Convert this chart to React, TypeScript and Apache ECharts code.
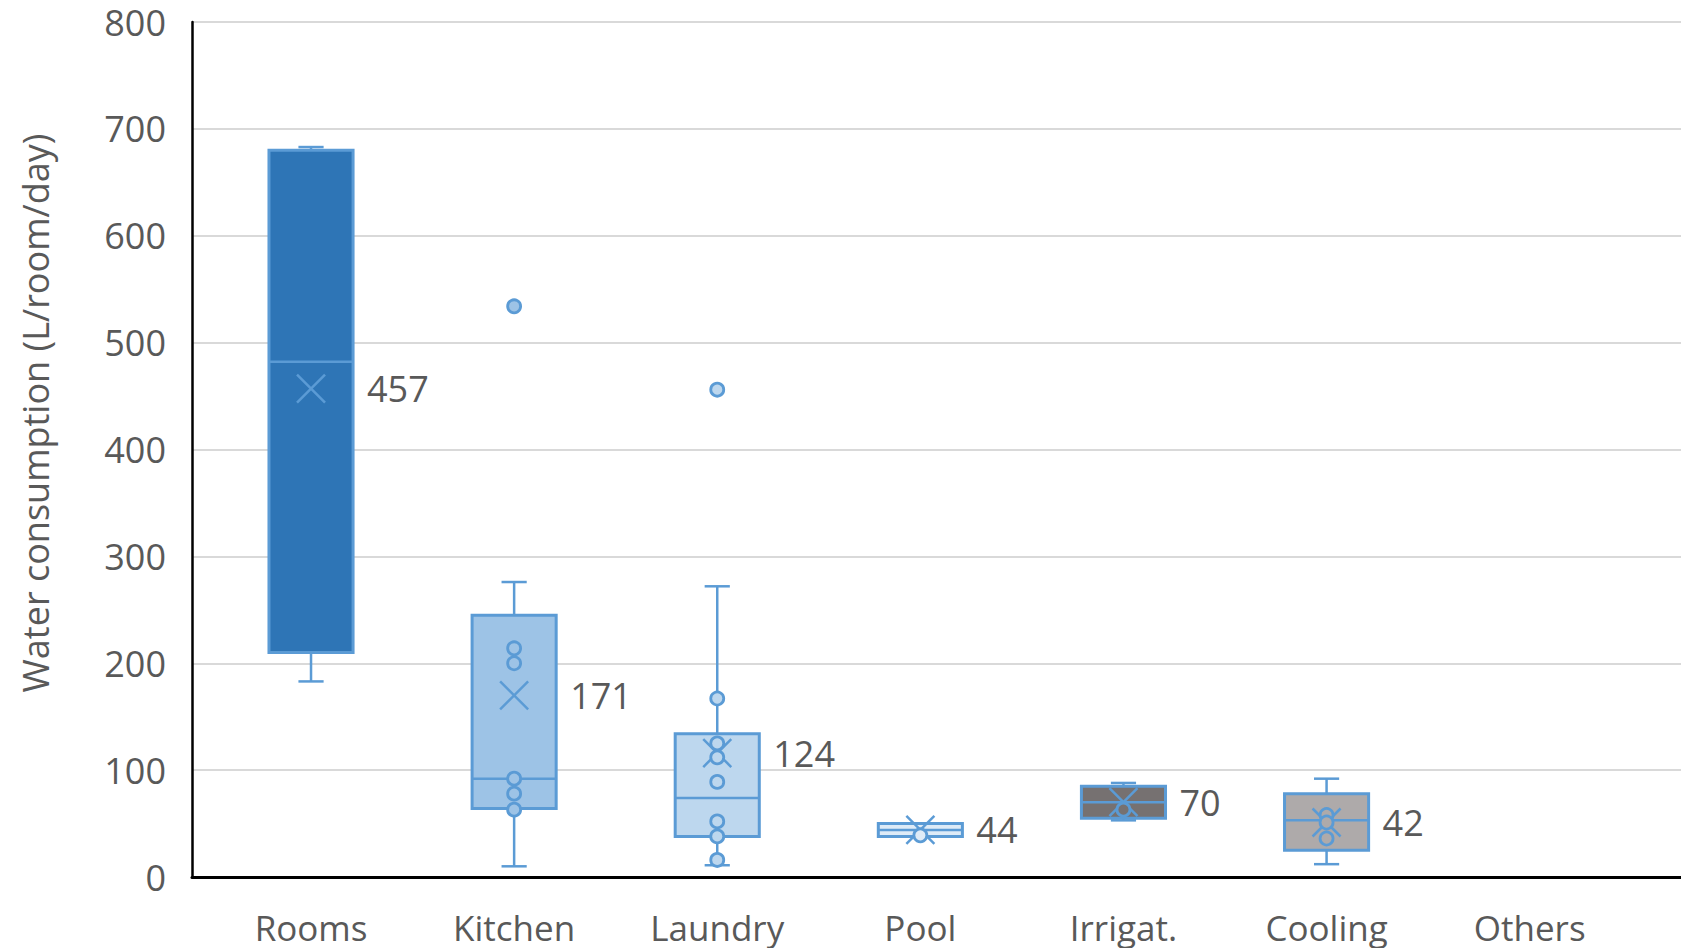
import React, { useEffect, useRef } from "react";
import * as echarts from "echarts";

const categories = ["Rooms", "Kitchen", "Laundry", "Pool", "Irrigat.", "Cooling", "Others"];
const whiskerLow = [183, 10, 11, 38, 53, 12];
const quartile1 = [210, 64, 38, 38, 55, 25];
const medians = [482, 92, 74, 44, 70, 53];
const quartile3 = [680, 245, 134, 50, 85, 78];
const whiskerHigh = [683, 276, 272, 50, 88, 92];
const meanMarks = [457, 170, 116, 44, 70, 51];
const meanLabels = ["457", "171", "124", "44", "70", "42"];
const innerPoints = [[], [214, 200, 92, 78, 63], [167, 125, 112, 89, 52, 38, 16], [39], [63], [58, 51, 36]];
const outliers = [[], [534], [456], [], [], []];
const boxFills = ["#2E75B6", "#9DC3E6", "#BDD7EE", "#DEEBF7", "#767171", "#AEAAAA"];
const yTicks = [0, 100, 200, 300, 400, 500, 600, 700, 800];

const FONT = "'Open Sans', 'Liberation Sans', sans-serif";
const TEXT = "#595959";
const EDGE = "#5B9BD5";

export default function App() {
  const ref = useRef<HTMLDivElement>(null);
  useEffect(() => {
    document.body.style.margin = "0";
    const chart = echarts.init(ref.current!, undefined, { renderer: "svg" });

    const boxData = whiskerLow.map((_, i) => [
      i,
      whiskerLow[i],
      quartile1[i],
      medians[i],
      quartile3[i],
      whiskerHigh[i],
      meanMarks[i],
    ]);

    const pointData: any[] = [];
    innerPoints.forEach((pts, i) =>
      pts.forEach((v) => pointData.push({ value: [i, v], itemStyle: { color: boxFills[i] } }))
    );
    outliers.forEach((pts, i) =>
      pts.forEach((v) => pointData.push({ value: [i, v], itemStyle: { color: boxFills[i] } }))
    );

    chart.setOption({
      animation: false,
      backgroundColor: "#ffffff",
      grid: { left: 192, right: 0, top: 22, bottom: 71, containLabel: false },
      xAxis: {
        type: "value",
        min: -0.586,
        max: 6.745,
        splitLine: { show: false },
        axisTick: { show: false },
        axisLine: { show: true, onZero: false, lineStyle: { color: "#000000", width: 3 } },
        axisLabel: {
          customValues: categories.map((_, i) => i),
          formatter: (v: number) => categories[Math.round(v)] ?? "",
          fontSize: 35,
          lineHeight: 32,
          fontFamily: FONT,
          color: TEXT,
          margin: 34,
        },
      },
      yAxis: {
        type: "value",
        min: 0,
        max: 800,
        interval: 100,
        axisTick: { show: false },
        axisLine: { show: true, onZero: false, lineStyle: { color: "#000000", width: 2.5 } },
        splitLine: { show: true, lineStyle: { color: "#D9D9D9", width: 2 } },
        axisLabel: {
          fontSize: 36,
          lineHeight: 36,
          fontFamily: FONT,
          color: TEXT,
          margin: 26,
          customValues: yTicks,
        },
      },
      graphic: [
        {
          type: "text",
          x: 35,
          y: 413,
          rotation: Math.PI / 2,
          style: {
            text: "Water consumption (L/room/day)",
            fontSize: 36,
            fontFamily: FONT,
            fill: TEXT,
            align: "center",
            verticalAlign: "middle",
          },
        },
      ],
      series: [
        {
          type: "custom",
          data: boxData,
          encode: { x: 0, y: [1, 2, 3, 4, 5, 6] },
          renderItem: (params: any, api: any) => {
            const i = api.value(0);
            const c = (v: number) => api.coord([i, v]);
            const band = api.size([1, 0])[0];
            const half = band * 0.207;
            const cap = band * 0.062;
            const pLow = c(api.value(1));
            const pQ1 = c(api.value(2));
            const pMed = c(api.value(3));
            const pQ3 = c(api.value(4));
            const pHigh = c(api.value(5));
            const pMean = c(api.value(6));
            const cx = pMed[0];
            const idx = params.dataIndex;
            const line = { stroke: EDGE, lineWidth: 2.5 };
            const xs = 14;
            return {
              type: "group",
              children: [
                { type: "line", shape: { x1: cx, y1: pHigh[1], x2: cx, y2: pQ3[1] }, style: line },
                { type: "line", shape: { x1: cx, y1: pQ1[1], x2: cx, y2: pLow[1] }, style: line },
                { type: "line", shape: { x1: cx - cap, y1: pHigh[1], x2: cx + cap, y2: pHigh[1] }, style: line },
                { type: "line", shape: { x1: cx - cap, y1: pLow[1], x2: cx + cap, y2: pLow[1] }, style: line },
                {
                  type: "rect",
                  shape: { x: cx - half, y: pQ3[1], width: half * 2, height: pQ1[1] - pQ3[1] },
                  style: { fill: boxFills[idx], stroke: EDGE, lineWidth: 3 },
                },
                { type: "line", shape: { x1: cx - half, y1: pMed[1], x2: cx + half, y2: pMed[1] }, style: line },
                { type: "line", shape: { x1: cx - xs, y1: pMean[1] - xs, x2: cx + xs, y2: pMean[1] + xs }, style: line },
                { type: "line", shape: { x1: cx - xs, y1: pMean[1] + xs, x2: cx + xs, y2: pMean[1] - xs }, style: line },
                {
                  type: "text",
                  x: cx + 56,
                  y: pMean[1],
                  style: {
                    text: meanLabels[idx],
                    fontSize: 36,
                    fontFamily: FONT,
                    fill: TEXT,
                    align: "left",
                    verticalAlign: "middle",
                  },
                },
              ],
            };
          },
          z: 2,
        },
        {
          type: "scatter",
          data: pointData,
          symbol: "circle",
          symbolSize: 13,
          itemStyle: { borderColor: EDGE, borderWidth: 2.8, opacity: 1 },
          z: 3,
        },
      ],
    });
    return () => chart.dispose();
  }, []);
  return <div ref={ref} style={{ position: "absolute", left: 0, top: 0, width: 1681, height: 948 }} />;
}
